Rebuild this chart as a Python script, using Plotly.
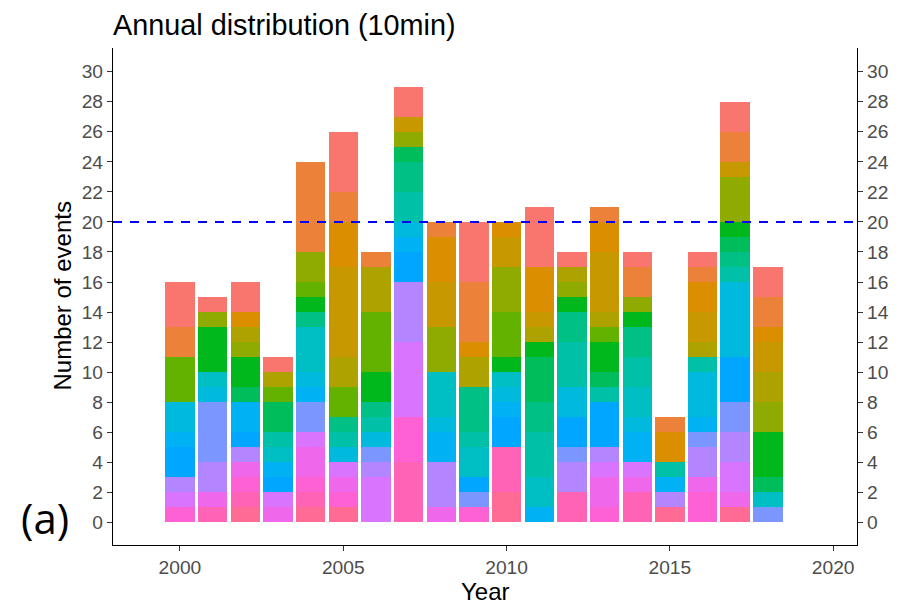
import math
import plotly.graph_objects as go

years = list(range(2000, 2019))
year_ticks = [2000, 2005, 2010, 2015, 2020]
y_ticks = list(range(0, 31, 2))
threshold = 20

# event counts per group (22 groups, ggplot hue order: g01 drawn on top)
g01 = [3, 1, 2, 1, 0, 4, 0, 2, 0, 4, 0, 4, 1, 0, 1, 0, 1, 2, 2]
g02 = [2, 0, 0, 0, 6, 2, 1, 0, 1, 4, 0, 0, 0, 1, 2, 1, 1, 2, 2]
g03 = [0, 0, 1, 0, 0, 3, 0, 0, 3, 1, 1, 3, 0, 2, 0, 2, 2, 0, 1]
g04 = [0, 0, 0, 0, 0, 6, 0, 1, 3, 0, 2, 1, 0, 4, 0, 0, 2, 1, 2]
g05 = [0, 0, 1, 1, 0, 2, 3, 0, 0, 2, 0, 1, 1, 1, 0, 0, 1, 0, 2]
g06 = [0, 1, 1, 0, 2, 0, 0, 1, 3, 0, 3, 0, 1, 0, 1, 0, 0, 3, 2]
g07 = [3, 0, 0, 1, 1, 2, 4, 0, 0, 0, 3, 0, 0, 1, 0, 0, 0, 0, 0]
g08 = [0, 3, 2, 0, 1, 0, 2, 0, 0, 0, 1, 1, 1, 2, 1, 0, 0, 1, 3]
g09 = [0, 0, 1, 2, 0, 0, 0, 1, 0, 0, 0, 3, 0, 1, 0, 0, 0, 1, 1]
g10 = [0, 0, 0, 0, 1, 1, 1, 2, 0, 3, 0, 2, 2, 0, 2, 0, 0, 1, 0]
g11 = [0, 0, 0, 1, 0, 1, 1, 2, 0, 1, 0, 3, 3, 1, 2, 1, 1, 1, 0]
g12 = [0, 1, 0, 1, 3, 0, 0, 0, 3, 2, 1, 2, 0, 0, 2, 0, 0, 0, 1]
g13 = [2, 1, 0, 0, 1, 1, 1, 1, 1, 0, 1, 0, 2, 0, 1, 0, 3, 5, 0]
g14 = [1, 0, 2, 1, 1, 0, 0, 1, 2, 0, 1, 1, 0, 0, 2, 1, 1, 0, 0]
g15 = [2, 0, 1, 1, 0, 0, 0, 2, 0, 1, 2, 0, 2, 3, 0, 0, 0, 3, 0]
g16 = [0, 4, 0, 0, 2, 0, 1, 0, 0, 1, 0, 0, 1, 0, 0, 0, 1, 2, 1]
g17 = [1, 2, 1, 0, 0, 0, 1, 4, 3, 0, 0, 0, 2, 1, 0, 1, 2, 2, 0]
g18 = [1, 0, 0, 1, 1, 1, 3, 5, 0, 0, 0, 0, 0, 1, 1, 0, 0, 2, 0]
g19 = [0, 1, 1, 1, 2, 1, 0, 0, 1, 0, 0, 0, 0, 2, 1, 0, 1, 1, 0]
g20 = [1, 0, 1, 0, 1, 1, 0, 3, 0, 1, 0, 0, 0, 1, 0, 0, 2, 0, 0]
g21 = [0, 1, 1, 0, 1, 0, 0, 4, 0, 0, 3, 0, 2, 0, 2, 0, 0, 0, 0]
g22 = [0, 0, 1, 0, 1, 1, 0, 0, 0, 0, 2, 0, 0, 0, 0, 1, 0, 1, 0]

groups = [g01, g02, g03, g04, g05, g06, g07, g08, g09, g10, g11,
          g12, g13, g14, g15, g16, g17, g18, g19, g20, g21, g22]


def hcl_hex(h, c=100.0, l=65.0):
    Xn, Yn, Zn = 95.047, 100.0, 108.883
    Y = Yn * (((l + 16) / 116) ** 3 if l > 8 else l / 903.3)
    hr = math.radians(h)
    u = c * math.cos(hr)
    v = c * math.sin(hr)
    d = Xn + 15 * Yn + 3 * Zn
    u0, v0 = 4 * Xn / d, 9 * Yn / d
    up = u / (13 * l) + u0
    vp = v / (13 * l) + v0
    X = Y * 9 * up / (4 * vp)
    Z = Y * (12 - 3 * up - 20 * vp) / (4 * vp)
    x, y, z = X / 100, Y / 100, Z / 100
    rgb = [3.240479 * x - 1.537150 * y - 0.498535 * z,
           -0.969256 * x + 1.875992 * y + 0.041556 * z,
           0.055648 * x - 0.204043 * y + 1.057311 * z]
    out = []
    for t in rgb:
        t = 12.92 * t if t <= 0.0031308 else 1.055 * (max(t, 0) ** (1 / 2.4)) - 0.055
        out.append(int(round(min(max(t, 0), 1) * 255)))
    return "#%02X%02X%02X" % tuple(out)


n = len(groups)
colors = [hcl_hex(15 + 360.0 / n * i) for i in range(n)]

fig = go.Figure()
for i in range(n - 1, -1, -1):
    fig.add_trace(go.Bar(x=years, y=groups[i], marker_color=colors[i],
                         marker_line_width=0, showlegend=False))

# invisible trace to anchor the secondary (right) axis
fig.add_trace(go.Scatter(x=[years[0]], y=[0], yaxis="y2", mode="markers",
                         marker_opacity=0, showlegend=False, hoverinfo="skip"))

fig.add_shape(type="line", xref="paper", x0=0, x1=1, yref="y", y0=threshold, y1=threshold,
              line=dict(color="#0000FF", width=2, dash="9px,8px"))

FONT = "Liberation Sans, Arial, sans-serif"
tickfont = dict(family=FONT, size=19.2, color="#4D4D4D")
yrange = [-1.5, 31.57]
axis_common = dict(showline=True, linecolor="black", linewidth=1.3, ticks="outside",
                   ticklen=5, tickcolor="#333333", tickwidth=1.2, showgrid=False,
                   zeroline=False, automargin=False, tickfont=tickfont)

# the page body adds an 8px offset, so margins are shifted to compensate
fig.update_layout(
    width=917, height=605,
    margin=dict(l=105, r=68, t=40, b=68),
    paper_bgcolor="white", plot_bgcolor="white",
    barmode="stack", bargap=0.1,
    font=dict(family=FONT, color="black"),
    title=dict(text="Annual distribution (10min)", x=105 / 917, xanchor="left",
               yref="container", y=1 - 17 / 605, yanchor="middle",
               font=dict(size=28.8, color="black")),
    xaxis=dict(range=[1997.95, 2020.73], tickvals=year_ticks, **axis_common),
    yaxis=dict(range=yrange, tickvals=y_ticks, **axis_common),
    yaxis2=dict(range=yrange, tickvals=y_ticks, overlaying="y", side="right", **axis_common),
)

# axis titles
fig.add_annotation(text="Year", xref="paper", yref="paper", x=0.5, y=(545 - 591) / 497,
                   xanchor="center", yanchor="middle", showarrow=False,
                   font=dict(family=FONT, size=24, color="black"))
fig.add_annotation(text="Number of events", xref="paper", yref="paper", x=(62 - 113) / 744, y=0.5,
                   xanchor="center", yanchor="middle", textangle=-90, showarrow=False,
                   font=dict(family=FONT, size=24, color="black"))

fig.add_annotation(text="(a)", xref="paper", yref="paper", x=(45 - 113) / 744, y=(545 - 517) / 497,
                   xanchor="center", yanchor="middle", showarrow=False,
                   font=dict(family="Open Sans, Lato, sans-serif", size=42, color="black"))

fig.write_html("out.html")
